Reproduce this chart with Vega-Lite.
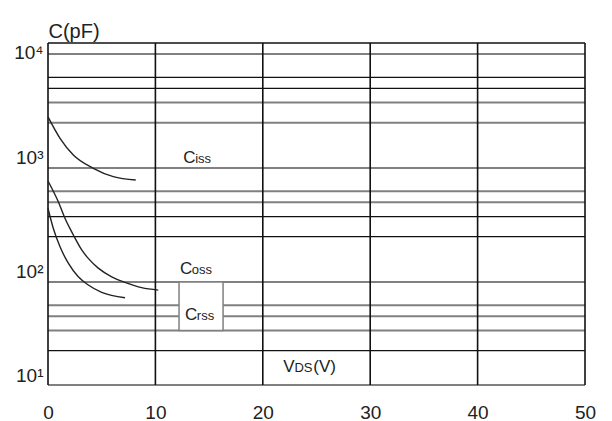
{
  "$schema": "https://vega.github.io/schema/vega-lite/v6.json",
  "width": 537,
  "height": 342,
  "autosize": {"type": "none"},
  "padding": {"left": 48, "top": 43, "right": 27, "bottom": 36},
  "background": "white",
  "config": {"view": {"stroke": null}, "font": "Liberation Sans"},
  "datasets": {
    "curves": [
      {"series": "Ciss", "x": 0, "c": 2250},
      {"series": "Ciss", "x": 1.12, "c": 1459},
      {"series": "Ciss", "x": 2.36, "c": 1042},
      {"series": "Ciss", "x": 4.22, "c": 796},
      {"series": "Ciss", "x": 6.08, "c": 672},
      {"series": "Ciss", "x": 8.17, "c": 628},
      {"series": "Coss", "x": 0, "c": 616},
      {"series": "Coss", "x": 0.96, "c": 405},
      {"series": "Coss", "x": 1.58, "c": 290},
      {"series": "Coss", "x": 2.36, "c": 207},
      {"series": "Coss", "x": 3.14, "c": 153},
      {"series": "Coss", "x": 3.75, "c": 129},
      {"series": "Coss", "x": 4.68, "c": 106},
      {"series": "Coss", "x": 5.93, "c": 89},
      {"series": "Coss", "x": 7.17, "c": 79.6},
      {"series": "Coss", "x": 8.72, "c": 71.4},
      {"series": "Coss", "x": 10.27, "c": 68},
      {"series": "Crss", "x": 0, "c": 355},
      {"series": "Crss", "x": 0.49, "c": 237},
      {"series": "Crss", "x": 1.12, "c": 163},
      {"series": "Crss", "x": 1.89, "c": 117},
      {"series": "Crss", "x": 2.82, "c": 89},
      {"series": "Crss", "x": 3.75, "c": 75.4},
      {"series": "Crss", "x": 5.0, "c": 65},
      {"series": "Crss", "x": 7.17, "c": 58.3}
    ],
    "hgridLight": [
      {"c": 10}, {"c": 30}, {"c": 40}, {"c": 50}, {"c": 80},
      {"c": 400}, {"c": 500}, {"c": 800},
      {"c": 2000}, {"c": 3000}, {"c": 8000}
    ],
    "hgridDark": [
      {"c": 20}, {"c": 200}, {"c": 300}, {"c": 4000}, {"c": 5000}, {"c": 10000}
    ],
    "vgrid": [
      {"x": 0}, {"x": 10}, {"x": 20}, {"x": 30}, {"x": 40}, {"x": 50}
    ],
    "box": [{"x": 12.2, "x2": 16.3, "c": 80, "c2": 30}],
    "bigText": [
      {"t": "C", "x": 12.6, "c": 886},
      {"t": "C", "x": 12.29, "c": 94.1},
      {"t": "C", "x": 12.76, "c": 37.2},
      {"t": "V", "x": 21.9, "c": 13.1},
      {"t": "(V)", "x": 24.7, "c": 13.1}
    ],
    "smallText": [
      {"t": "iss", "x": 13.7, "c": 886},
      {"t": "oss", "x": 13.39, "c": 94.1},
      {"t": "rss", "x": 13.86, "c": 37.2},
      {"t": "DS", "x": 22.95, "c": 13.1}
    ]
  },
  "layer": [
    {
      "data": {"name": "hgridLight"},
      "mark": {"type": "rule", "color": "#808080", "strokeWidth": 2},
      "encoding": {
        "y": {"field": "c", "type": "quantitative", "scale": {"type": "log", "domain": [10, 10000]}}
      }
    },
    {
      "data": {"name": "hgridDark"},
      "mark": {"type": "rule", "color": "#111111", "strokeWidth": 1.3},
      "encoding": {
        "y": {"field": "c", "type": "quantitative"}
      }
    },
    {
      "data": {"name": "vgrid"},
      "mark": {"type": "rule", "color": "#111111", "strokeWidth": 1.6},
      "encoding": {
        "x": {"field": "x", "type": "quantitative", "scale": {"domain": [0, 50], "nice": false, "zero": false}}
      }
    },
    {
      "data": {"name": "box"},
      "mark": {"type": "rect", "fill": "white", "stroke": "#808080", "strokeWidth": 1.5},
      "encoding": {
        "x": {"field": "x", "type": "quantitative"},
        "x2": {"field": "x2"},
        "y": {"field": "c", "type": "quantitative"},
        "y2": {"field": "c2"}
      }
    },
    {
      "data": {"name": "curves"},
      "mark": {"type": "line", "color": "#222222", "strokeWidth": 1.4, "interpolate": "monotone"},
      "encoding": {
        "x": {
          "field": "x", "type": "quantitative",
          "axis": {"values": [0, 10, 20, 30, 40, 50], "title": null, "grid": false, "ticks": false, "domain": false, "labelFontSize": 19, "labelPadding": 33, "labelBaseline": "alphabetic", "labelFlush": false, "labelColor": "#222222"}
        },
        "y": {
          "field": "c", "type": "quantitative",
          "axis": {
            "values": [10, 100, 1000, 10000],
            "labelExpr": "datum.value == 10000 ? '10⁴' : datum.value == 1000 ? '10³' : datum.value == 100 ? '10²' : '10¹'",
            "title": "C(pF)", "titleAngle": 0, "titleX": 0, "titleY": -6, "titleAlign": "left", "titleBaseline": "alphabetic",
            "titleFontSize": 20, "titleFontWeight": "normal", "titleColor": "#222222",
            "grid": false, "ticks": false, "domain": false,
            "labelFontSize": 19, "labelPadding": 5, "labelFlush": true, "labelColor": "#222222"
          }
        },
        "detail": {"field": "series"}
      }
    },
    {
      "data": {"name": "bigText"},
      "mark": {"type": "text", "align": "left", "baseline": "alphabetic", "fontSize": 17, "color": "#222222"},
      "encoding": {
        "x": {"field": "x", "type": "quantitative"},
        "y": {"field": "c", "type": "quantitative"},
        "text": {"field": "t"}
      }
    },
    {
      "data": {"name": "smallText"},
      "mark": {"type": "text", "align": "left", "baseline": "alphabetic", "fontSize": 13, "color": "#222222"},
      "encoding": {
        "x": {"field": "x", "type": "quantitative"},
        "y": {"field": "c", "type": "quantitative"},
        "text": {"field": "t"}
      }
    }
  ]
}
